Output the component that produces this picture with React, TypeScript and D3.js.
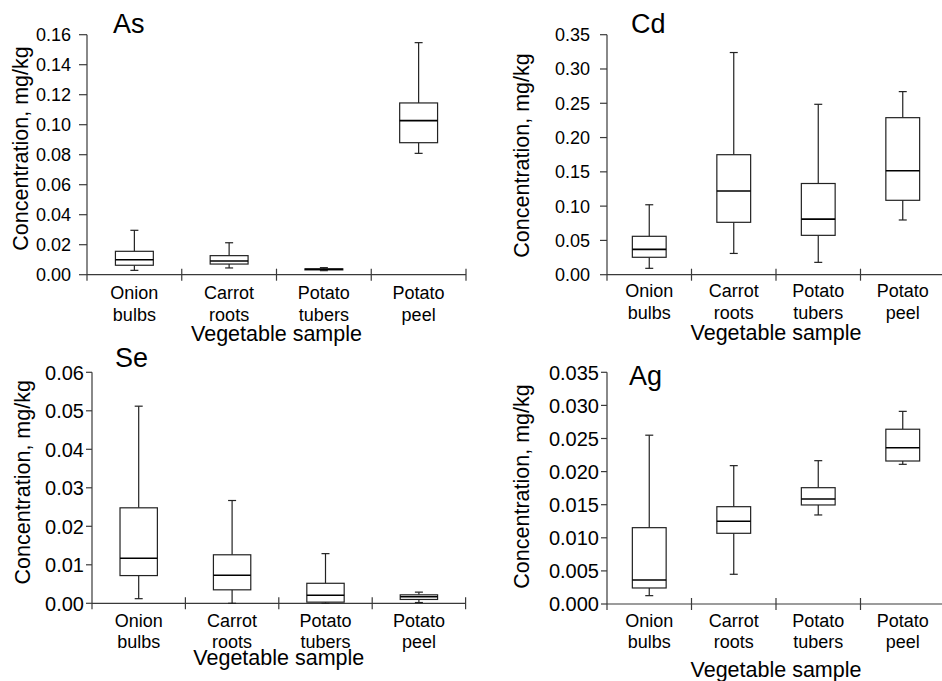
import React from 'react';
import * as d3 from 'd3';

const categories = ['Onion bulbs', 'Carrot roots', 'Potato tubers', 'Potato peel'];

// five-number summaries per category: [min, q1, median, q3, max]
const asStats = [
  [0.0029, 0.0063, 0.0100, 0.0156, 0.0296],
  [0.0045, 0.0071, 0.0091, 0.0127, 0.0213],
  [0.0027, 0.0032, 0.0036, 0.0039, 0.0047],
  [0.0809, 0.0880, 0.1027, 0.1145, 0.1547],
];
const cdStats = [
  [0.0093, 0.0254, 0.0370, 0.0560, 0.1020],
  [0.0310, 0.0764, 0.1220, 0.1750, 0.3240],
  [0.0180, 0.0574, 0.0810, 0.1330, 0.2485],
  [0.0798, 0.1085, 0.1517, 0.2290, 0.2670],
];
const seStats = [
  [0.0012, 0.0072, 0.0117, 0.0248, 0.0512],
  [0.0000, 0.0035, 0.0073, 0.0126, 0.0267],
  [0.0000, 0.0003, 0.0021, 0.0052, 0.0129],
  [0.0002, 0.0010, 0.0017, 0.0022, 0.0029],
];
const agStats = [
  [0.00126, 0.00242, 0.00363, 0.01153, 0.0255],
  [0.00449, 0.01068, 0.0125, 0.0147, 0.0209],
  [0.01345, 0.01496, 0.01586, 0.01757, 0.02165],
  [0.0211, 0.0216, 0.0236, 0.0264, 0.0291],
];

const asTicks = [0, 0.02, 0.04, 0.06, 0.08, 0.1, 0.12, 0.14, 0.16];
const cdTicks = [0, 0.05, 0.1, 0.15, 0.2, 0.25, 0.3, 0.35];
const seTicks = [0, 0.01, 0.02, 0.03, 0.04, 0.05, 0.06];
const agTicks = [0, 0.005, 0.01, 0.015, 0.02, 0.025, 0.03, 0.035];

const FONT = 'Liberation Sans, Arial, sans-serif';
const AXIS = '#3a3a3a';

const panels = [
  { title: 'As', stats: asStats, ticks: asTicks, fmt: '.2f',
    x0: 87, x1: 466, yTop: 34.7, yBot: 274.7,
    titleX: 113, titleY: 33, tickFont: 18, tickGap: 8, labelRight: 71,
    catY: 299, xTitleY: 341, yTitleX: 27.5, yTitleY: 148.5 },
  { title: 'Cd', stats: cdStats, ticks: cdTicks, fmt: '.2f',
    x0: 607, x1: 945, yTop: 34.7, yBot: 274.7,
    titleX: 631, titleY: 33, tickFont: 18, tickGap: 7, labelRight: 590,
    catY: 297, xTitleY: 340, yTitleX: 529, yTitleY: 155.5 },
  { title: 'Se', stats: seStats, ticks: seTicks, fmt: '.2f',
    x0: 92, x1: 465.6, yTop: 372.3, yBot: 603.3,
    titleX: 115, titleY: 366.7, tickFont: 20, tickGap: 6, labelRight: 84,
    catY: 626.7, xTitleY: 665, yTitleX: 29.5, yTitleY: 482.3 },
  { title: 'Ag', stats: agStats, ticks: agTicks, fmt: '.3f',
    x0: 607, x1: 945, yTop: 372.3, yBot: 604,
    titleX: 629, titleY: 385, tickFont: 20, tickGap: 6, labelRight: 599,
    catY: 626.7, xTitleY: 676.7, yTitleX: 529, yTitleY: 486.5 },
];

function Panel({ p }: { p: any }) {
  const max = p.ticks[p.ticks.length - 1];
  const y = d3.scaleLinear().domain([0, max]).range([p.yBot, p.yTop]);
  const x = d3.scaleBand().domain(categories).range([p.x0, p.x1]).padding(0);
  const bw = x.bandwidth() * 0.4;
  const cap = 8;
  const fmt = d3.format(p.fmt);
  const bounds = categories.map((c) => x(c) as number).concat([p.x1]);

  return (
    <g fontFamily={FONT}>
      {/* y axis */}
      <line x1={p.x0} x2={p.x0} y1={p.yTop} y2={p.yBot} stroke={AXIS} strokeWidth={1.2} />
      {p.ticks.map((t: number) => (
        <g key={t}>
          <line x1={p.x0 - p.tickGap} x2={p.x0} y1={y(t)} y2={y(t)} stroke={AXIS} strokeWidth={1.2} />
          <text x={p.labelRight} y={y(t)} dy="0.36em" textAnchor="end" fontSize={p.tickFont}>{fmt(t)}</text>
        </g>
      ))}
      {/* x axis */}
      <line x1={p.x0} x2={p.x1} y1={p.yBot} y2={p.yBot} stroke={AXIS} strokeWidth={1.2} />
      {bounds.map((b: number, i: number) => (
        <line key={i} x1={b} x2={b} y1={i === 0 ? p.yBot : p.yBot - 6} y2={p.yBot + 6} stroke={AXIS} strokeWidth={1.2} />
      ))}
      {categories.map((c) => {
        const words = c.split(' ');
        const cx = (x(c) as number) + x.bandwidth() / 2;
        return (
          <text key={c} x={cx} y={p.catY} textAnchor="middle" fontSize={18}>
            <tspan x={cx}>{words[0]}</tspan>
            <tspan x={cx} dy={21.5}>{words[1]}</tspan>
          </text>
        );
      })}
      {/* boxes */}
      {p.stats.map((s: number[], i: number) => {
        const cx = (x(categories[i]) as number) + x.bandwidth() / 2;
        const [mn, q1, md, q3, mx] = s;
        return (
          <g key={i}>
            <line x1={cx} x2={cx} y1={y(mx)} y2={y(q3)} stroke="#222" strokeWidth={1.2} />
            <line x1={cx} x2={cx} y1={y(q1)} y2={y(mn)} stroke="#222" strokeWidth={1.2} />
            <line x1={cx - cap / 2} x2={cx + cap / 2} y1={y(mx)} y2={y(mx)} stroke="#222" strokeWidth={1.2} />
            <line x1={cx - cap / 2} x2={cx + cap / 2} y1={y(mn)} y2={y(mn)} stroke="#222" strokeWidth={1.2} />
            <rect x={cx - bw / 2} y={y(q3)} width={bw} height={Math.max(y(q1) - y(q3), 0.5)} fill="white" stroke="#222" strokeWidth={1.2} />
            <line x1={cx - bw / 2} x2={cx + bw / 2} y1={y(md)} y2={y(md)} stroke="#000" strokeWidth={1.6} />
          </g>
        );
      })}
      {/* titles */}
      <text x={p.titleX} y={p.titleY} fontSize={27}>{p.title}</text>
      <text x={(p.x0 + Math.min(p.x1, 945)) / 2} y={p.xTitleY} textAnchor="middle" fontSize={21.5}>Vegetable sample</text>
      <text transform={`translate(${p.yTitleX},${p.yTitleY}) rotate(-90)`} textAnchor="middle" fontSize={21.5}>Concentration, mg/kg</text>
    </g>
  );
}

export default function App() {
  return (
    <svg width={942} height={681} style={{ position: 'absolute', left: 0, top: 0, background: 'white' }}>
      <rect width={942} height={681} fill="white" />
      {panels.map((p) => <Panel key={p.title} p={p} />)}
    </svg>
  );
}
